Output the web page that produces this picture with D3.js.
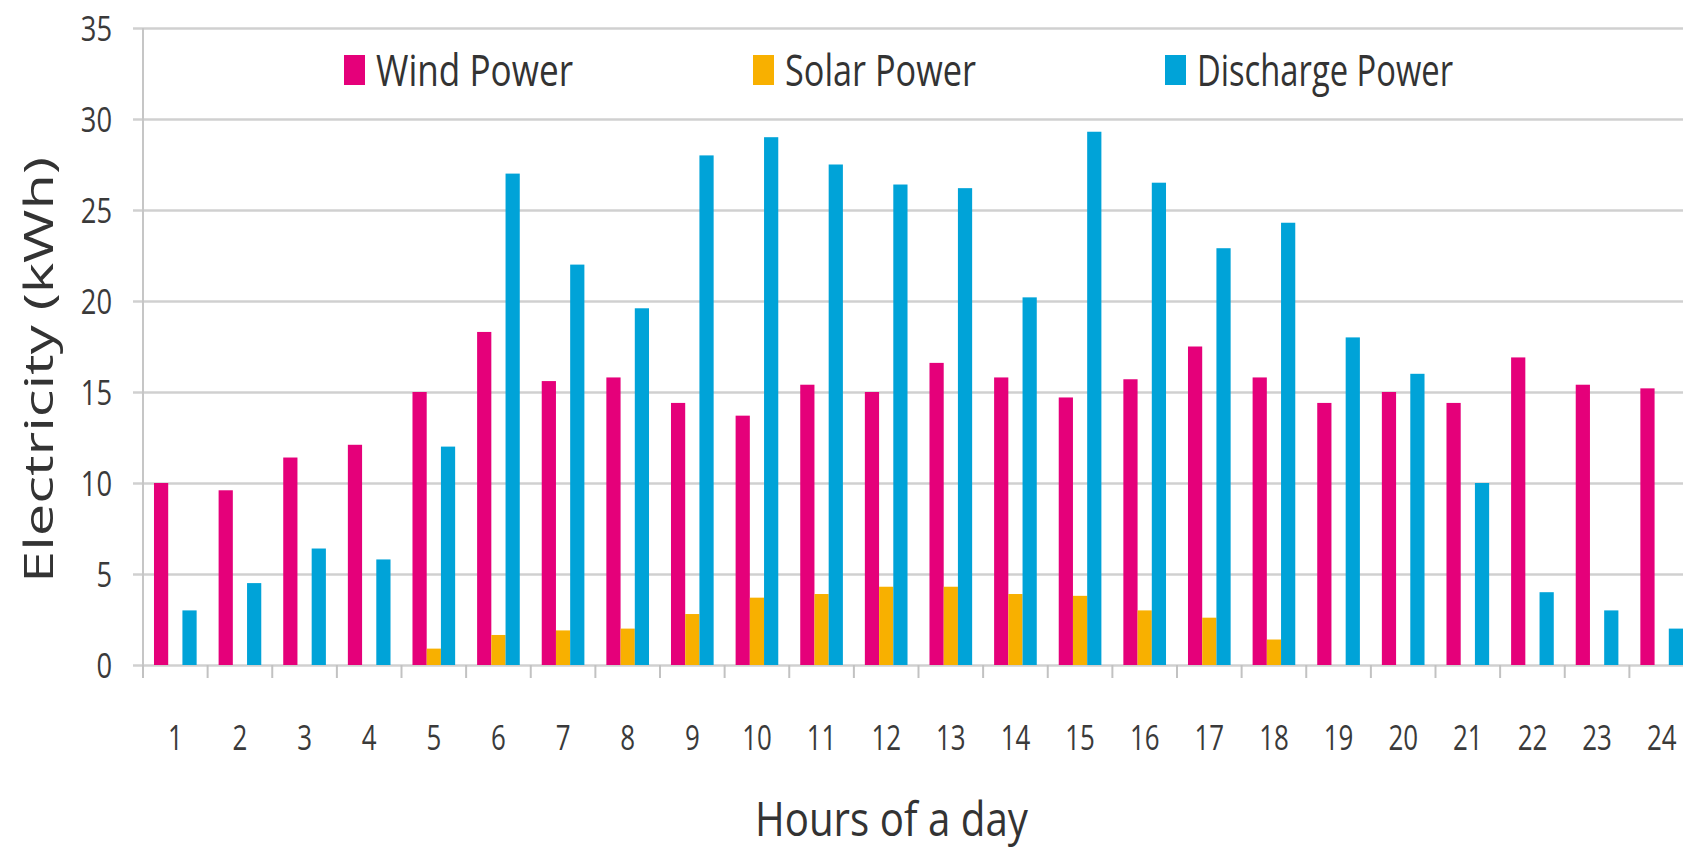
<!DOCTYPE html>
<html>
<head>
<meta charset="utf-8">
<script src="https://cdn.jsdelivr.net/npm/d3@7"></script>
<style>
  html, body { margin: 0; padding: 0; background: #ffffff; }
  svg { display: block; }
  text { font-family: "Open Sans", "Noto Sans", sans-serif; }
</style>
</head>
<body>
<svg id="chart" width="1683" height="854"></svg>
<script>
// ---- data ----
const hours = [1,2,3,4,5,6,7,8,9,10,11,12,13,14,15,16,17,18,19,20,21,22,23,24];
const seriesNames = ["Wind Power", "Solar Power", "Discharge Power"];
const windPower = [10.0, 9.6, 11.4, 12.1, 15.0, 18.3, 15.6, 15.8, 14.4, 13.7, 15.4, 15.0,
                   16.6, 15.8, 14.7, 15.7, 17.5, 15.8, 14.4, 15.0, 14.4, 16.9, 15.4, 15.2];
const solarPower = [0, 0, 0, 0, 0.9, 1.65, 1.9, 2.0, 2.8, 3.7, 3.9, 4.3,
                    4.3, 3.9, 3.8, 3.0, 2.6, 1.4, 0, 0, 0, 0, 0, 0];
const dischargePower = [3.0, 4.5, 6.4, 5.8, 12.0, 27.0, 22.0, 19.6, 28.0, 29.0, 27.5, 26.4,
                        26.2, 20.2, 29.3, 26.5, 22.9, 24.3, 18.0, 16.0, 10.0, 4.0, 3.0, 2.0];
const yTicks = [0, 5, 10, 15, 20, 25, 30, 35];
const colors = ["#e5007a", "#f8b000", "#00a3d8"];
const yTitle = "Electricity (kWh)";
const xTitle = "Hours of a day";

(function () {
// ---- layout ----
const mLeft = 143, mRight = 1694, mTop = 28, mBottom = 665;
const svg = d3.select("#chart");

const x0 = d3.scaleBand().domain(hours).range([mLeft, mRight]).paddingInner(0).paddingOuter(0);
const bw = x0.bandwidth();
const x1 = d3.scaleBand().domain(seriesNames).range([bw * 0.17, bw * 0.83]).padding(0);
const y = d3.scaleLinear().domain([0, 35]).range([mBottom, mTop]);

function squeeze(sel, k) {
  sel.each(function () {
    const L = this.getComputedTextLength();
    d3.select(this).attr("textLength", L * k).attr("lengthAdjust", "spacingAndGlyphs");
  });
}

// gridlines + y labels via axis
const yAxis = d3.axisLeft(y).tickValues(yTicks).tickSizeInner(-(mRight - mLeft + 10)).tickSizeOuter(0).tickPadding(0);
const gy = svg.append("g").attr("transform", `translate(${mLeft},0)`).call(yAxis);
gy.select(".domain").remove();
gy.selectAll(".tick line")
  .attr("x1", -10).attr("x2", mRight - mLeft + 20)
  .attr("stroke", "#d0d0d0").attr("stroke-width", 2.6);
gy.selectAll(".tick text")
  .attr("x", -31).attr("dy", "0.36em")
  .attr("fill", "#3a3a3a").style("font-size", "35px")
  .attr("text-anchor", "end");
squeeze(gy.selectAll(".tick text"), 0.78);

// vertical axis line
svg.append("line")
  .attr("x1", mLeft).attr("x2", mLeft).attr("y1", y(35)).attr("y2", y(0) + 13)
  .attr("stroke", "#c6c6c6").attr("stroke-width", 2);

// x tick marks at band boundaries
svg.append("g").selectAll("line")
  .data(hours)
  .join("line")
  .attr("x1", d => x0(d)).attr("x2", d => x0(d))
  .attr("y1", y(0)).attr("y2", y(0) + 13)
  .attr("stroke", "#c2c2c2").attr("stroke-width", 2);

// x labels via axis
const xAxis = d3.axisBottom(x0).tickSize(0).tickPadding(0);
const gx = svg.append("g").attr("transform", `translate(0,${mBottom})`).call(xAxis);
gx.select(".domain").remove();
gx.selectAll(".tick text")
  .attr("y", 85).attr("dy", 0)
  .attr("fill", "#3a3a3a").style("font-size", "35px");
squeeze(gx.selectAll(".tick text"), 0.74);

// bars
const seriesData = [windPower, solarPower, dischargePower];
const groups = svg.append("g").selectAll("g")
  .data(hours)
  .join("g")
  .attr("transform", d => `translate(${x0(d)},0)`);
groups.selectAll("rect")
  .data((h, i) => seriesNames.map((s, k) => ({ s, k, v: seriesData[k][i] })))
  .join("rect")
  .attr("x", d => x1(d.s))
  .attr("width", x1.bandwidth())
  .attr("y", d => y(d.v))
  .attr("height", d => y(0) - y(d.v))
  .attr("fill", d => colors[d.k]);

// legend
const legendX = [344, 753, 1165];
const legendW = [197, 191, 256];
const lg = svg.append("g").selectAll("g")
  .data(seriesNames)
  .join("g")
  .attr("transform", (d, i) => `translate(${legendX[i]},0)`);
lg.append("rect")
  .attr("x", 0).attr("y", 55).attr("width", 21).attr("height", 30)
  .attr("fill", (d, i) => colors[i]);
lg.append("text")
  .attr("x", 32).attr("y", 86)
  .attr("fill", "#333")
  .style("font-size", "43px")
  .attr("textLength", (d, i) => legendW[i])
  .attr("lengthAdjust", "spacingAndGlyphs")
  .text(d => d);

// axis titles
svg.append("text")
  .attr("x", 755).attr("y", 836)
  .attr("fill", "#333").style("font-size", "47px")
  .attr("textLength", 273).attr("lengthAdjust", "spacingAndGlyphs")
  .text(xTitle);

svg.append("text")
  .attr("transform", "translate(53,583) rotate(-90)")
  .attr("x", 0).attr("y", 0)
  .attr("fill", "#333").style("font-size", "41px")
  .attr("textLength", 426).attr("lengthAdjust", "spacingAndGlyphs")
  .text(yTitle);
})();
</script>
</body>
</html>
